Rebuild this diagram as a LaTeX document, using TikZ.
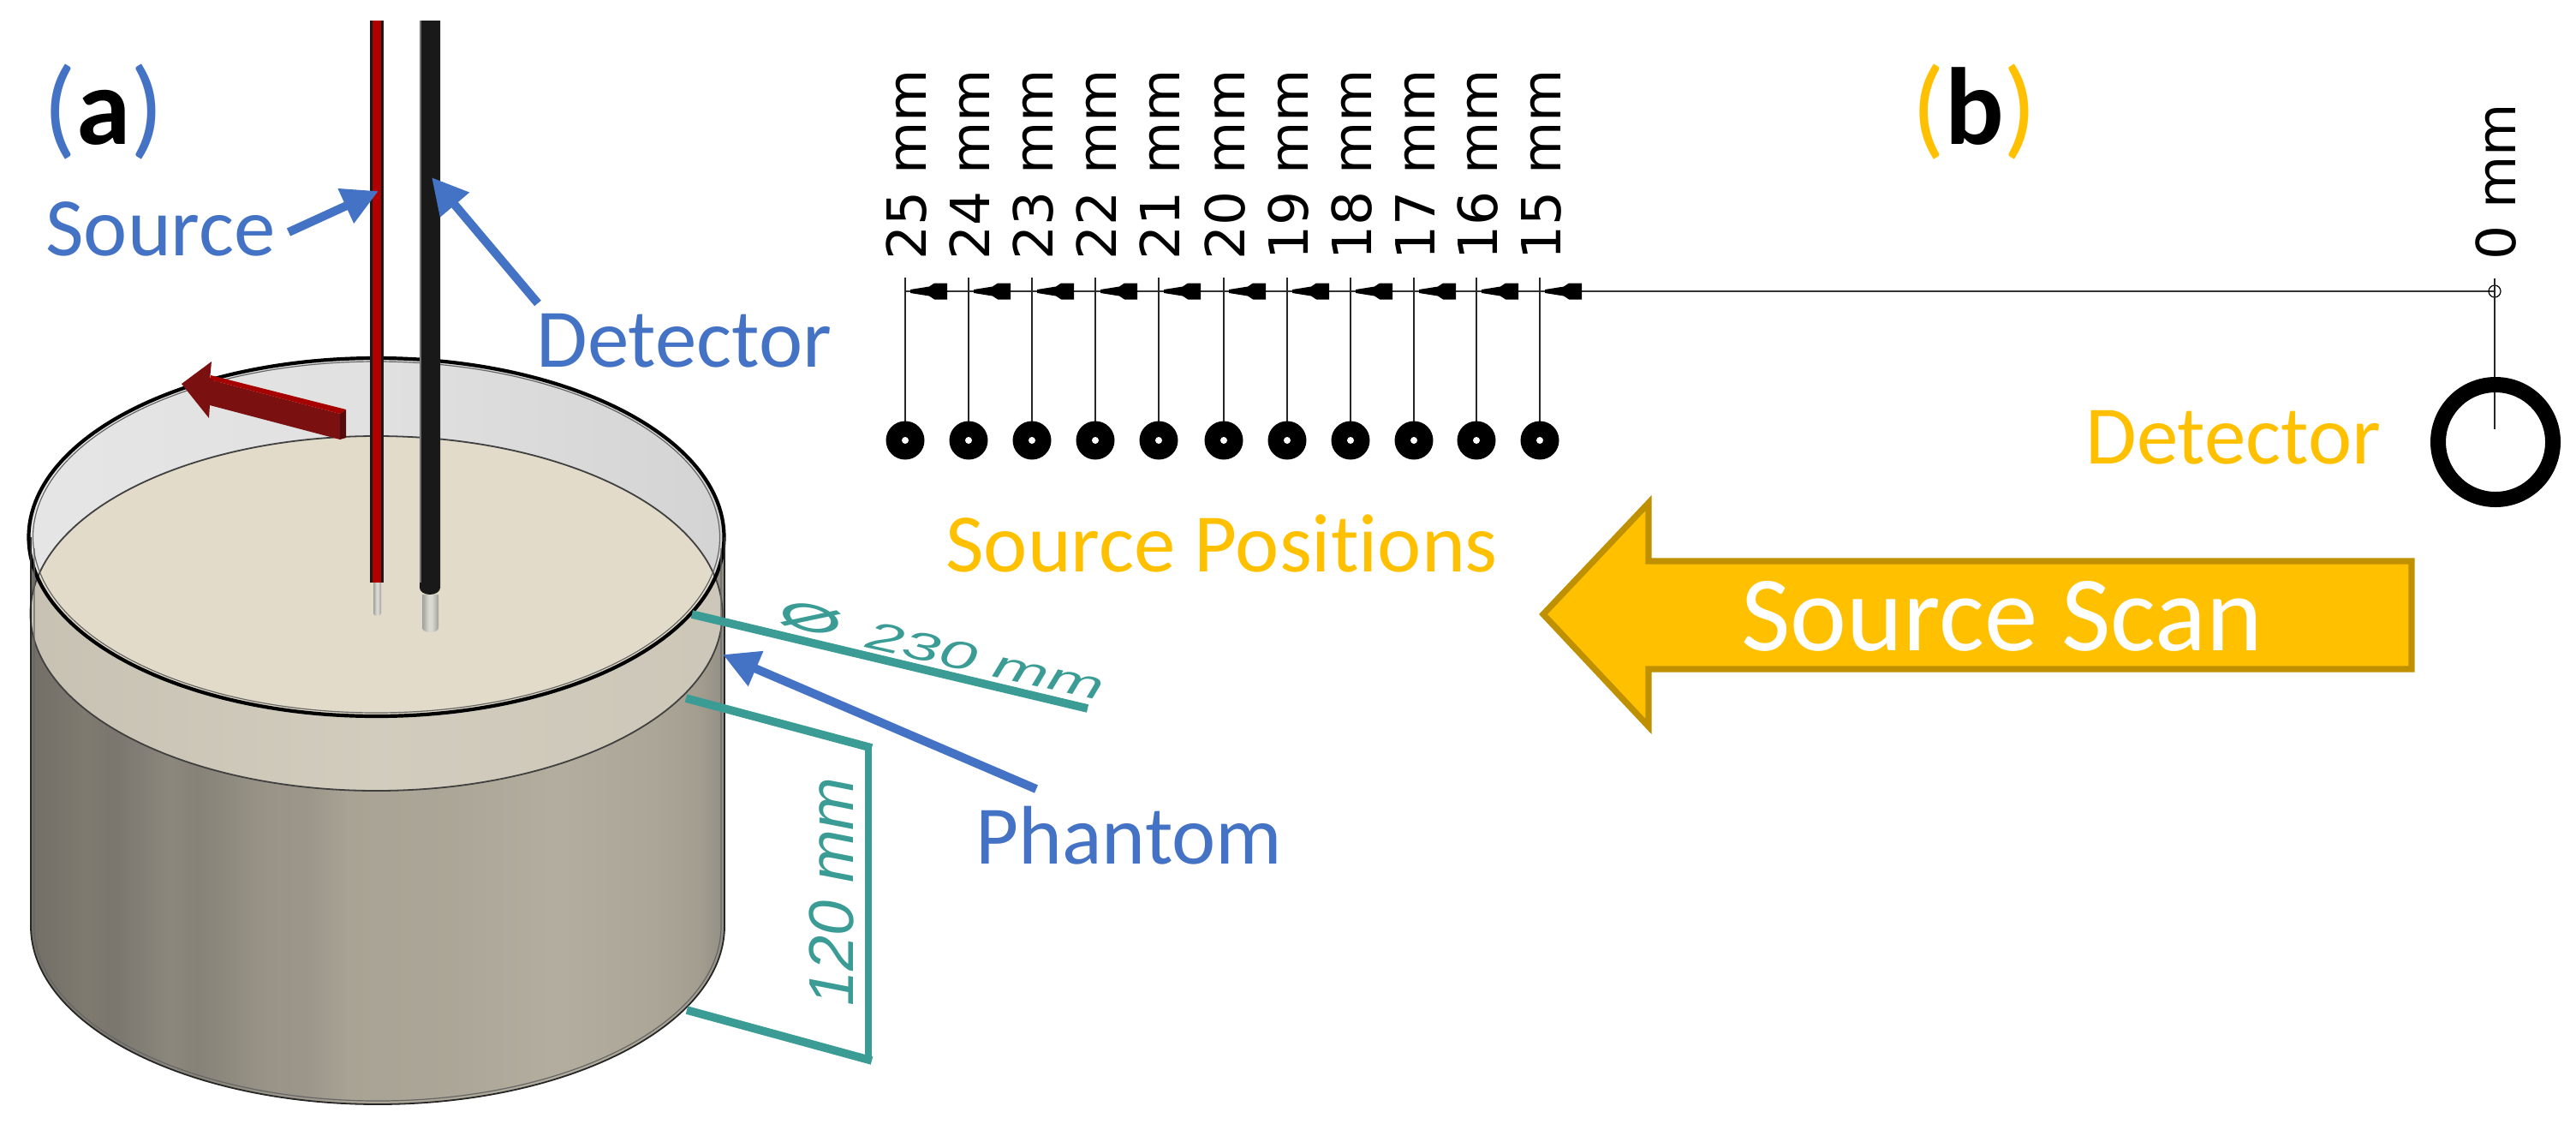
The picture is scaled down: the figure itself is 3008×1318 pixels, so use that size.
\documentclass[tikz,border=0pt]{standalone}
\usepackage{graphicx}
\usepackage{fontspec}
\setmainfont{Carlito}[Ligatures=NoCommon]
\newfontfamily\cadfont{DejaVu Sans}
\newfontfamily\dimfont{Liberation Sans}
\usetikzlibrary{arrows.meta}

\definecolor{lblue}{HTML}{4472C4}
\definecolor{lorange}{HTML}{FFC000}
\definecolor{bigedge}{HTML}{BF9000}
\definecolor{dimteal}{HTML}{3A9C94}
\definecolor{beige}{HTML}{E2DBC9}
\definecolor{darkred}{HTML}{7A1010}

\pgfdeclarehorizontalshading{bodyshade}{100bp}{
  rgb(0bp)=(0.45,0.43,0.40);
  rgb(25bp)=(0.45,0.43,0.40);
  rgb(29bp)=(0.50,0.48,0.44);
  rgb(31bp)=(0.48,0.46,0.43);
  rgb(35bp)=(0.55,0.53,0.49);
  rgb(37bp)=(0.53,0.51,0.47);
  rgb(42bp)=(0.60,0.58,0.53);
  rgb(45bp)=(0.61,0.59,0.54);
  rgb(48bp)=(0.66,0.64,0.58);
  rgb(55bp)=(0.67,0.65,0.59);
  rgb(63bp)=(0.70,0.68,0.62);
  rgb(70bp)=(0.67,0.65,0.59);
  rgb(73bp)=(0.64,0.62,0.56);
  rgb(75bp)=(0.58,0.56,0.52);
  rgb(100bp)=(0.58,0.56,0.52)}
\pgfdeclarehorizontalshading{bandshade}{100bp}{
  rgb(0bp)=(0.78,0.76,0.70);
  rgb(25bp)=(0.78,0.76,0.70);
  rgb(50bp)=(0.82,0.80,0.74);
  rgb(75bp)=(0.80,0.78,0.72);
  rgb(100bp)=(0.80,0.78,0.72)}
\pgfdeclarehorizontalshading{wallshade}{100bp}{
  rgb(0bp)=(0.90,0.90,0.90);
  rgb(25bp)=(0.90,0.90,0.90);
  rgb(50bp)=(0.88,0.88,0.88);
  rgb(75bp)=(0.83,0.83,0.83);
  rgb(100bp)=(0.83,0.83,0.83)}
\pgfdeclarehorizontalshading{tipshade}{100bp}{
  rgb(0bp)=(0.35,0.35,0.35);
  rgb(45bp)=(0.85,0.85,0.82);
  rgb(55bp)=(0.85,0.85,0.82);
  rgb(100bp)=(0.35,0.35,0.35)}

\tikzset{
  bluetxt/.style={text=lblue,font=\fontsize{48.5}{48.5}\selectfont,inner sep=0pt,anchor=base west},
  orangetxt/.style={text=lorange,font=\fontsize{48.5}{48.5}\selectfont,inner sep=0pt,anchor=base west},
  paneltag/.style={font=\fontsize{64}{64}\selectfont,inner sep=0pt,anchor=base west},
  callout/.style={draw=lblue,line width=5pt,-{Triangle[length=21pt,width=21pt]}},
  dimline/.style={draw=dimteal,line width=4.8pt},
  cadtxt/.style={font=\cadfont\fontsize{31.5}{31.5}\selectfont,rotate=90,anchor=base west,inner sep=0pt},
  extline/.style={draw=black!85,line width=1.1pt},
}

\begin{document}
\begin{tikzpicture}[x=0.5pt,y=-0.5pt]
  \useasboundingbox (0,0) rectangle (3008,1318);

  % cylinder body
  \path[shading=bodyshade] (36,627) -- (36,1081)
    arc[start angle=180,end angle=0,x radius=405,y radius=208] -- (846,627) -- cycle;
  % back wall, then top of the phantom seen through the wall
  \path[shading=wallshade] (439.5,627) ellipse[x radius=406,y radius=209];
  \path[shading=bandshade] (439.5,716) ellipse[x radius=404,y radius=207];
  \begin{scope}
    \clip (439.5,627) ellipse[x radius=406,y radius=209];
    \fill[beige] (439.5,716) ellipse[x radius=404,y radius=207];
  \end{scope}
  \draw[black!75,line width=0.9pt] (439.5,716) ellipse[x radius=404,y radius=207];
  \draw[black!60,line width=0.6pt] (439.5,627) ellipse[x radius=401,y radius=205];
  \draw[black,line width=2.1pt] (439.5,627) ellipse[x radius=406,y radius=209];
  % body outline
  \draw[black!85,line width=0.9pt] (36,627) -- (36,1081)
    arc[start angle=180,end angle=0,x radius=405,y radius=208] -- (846,627);
  \draw[black!60,line width=0.6pt] (40,640) -- (40,1081)
    arc[start angle=180,end angle=0,x radius=401,y radius=204] -- (842,640);

  % red arrow on the rim
  \fill[darkred] (212,448) -- (247,422) -- (245,443) -- (397,483) -- (397,513)
    -- (245,473) -- (244,488) -- cycle;
  \fill[red!65!black] (246,438) -- (404,478) -- (397,483) -- (245,443) -- cycle;
  \fill[darkred!70!black] (397,483) -- (404,478) -- (404,511) -- (397,513) -- cycle;

  % source and detector rods
  \path[shading=tipshade] (436,680) -- (436,716) arc[start angle=180,end angle=0,x radius=4.5,y radius=3] -- (445,680) -- cycle;
  \path[shading=tipshade] (493,694) -- (493,733) arc[start angle=180,end angle=0,x radius=9.5,y radius=5] -- (512,694) -- cycle;
  \fill[black!90] (432,24) rectangle (448,680);
  \fill[red!70!black] (435,24) rectangle (445,680);
  \fill[black!90] (490,24) -- (514,24) -- (514,686)
    arc[start angle=0,end angle=180,x radius=12,y radius=8] -- cycle;
  \fill[black!55] (490,24) rectangle (492,680);

  % dimensions
  \draw[dimline] (808,717) -- (1270,827);
  \draw[dimline] (801,815) -- (1018,873);
  \draw[dimline] (802,1179) -- (1018,1238);
  \draw[dimline,line width=3.6pt] (1014,873) -- (1014,1238);
  \node (dia) [text=dimteal,rotate=-13.5,inner sep=0pt,font=\cadfont\fontsize{30}{30}\selectfont] at (947,722) {\scalebox{2.1}[1]{⌀}};
  \node (len230) [text=dimteal,rotate=-12.7,inner sep=0pt,anchor=base,font=\dimfont\itshape\fontsize{23}{23}\selectfont] at (1147,787) {\scalebox{1.7}[1]{230 mm}};
  \node (len120) [text=dimteal,rotate=90,inner sep=0pt,anchor=base,font=\dimfont\itshape\fontsize{37}{37}\selectfont] at (996,1041) {120 mm};

  % labels of panel (a)
  \node (taga) [paneltag] at (50,168) {\textcolor{lblue}{(}\textbf{a}\textcolor{lblue}{)}};
  \node (source) [bluetxt] at (53,298) {Source};
  \node (detector) [bluetxt] at (626,428) {Detector};
  \node (phantom) [bluetxt] at (1139,1008) {Phantom};
  \coordinate (sourcefrom) at (337,271);
  \coordinate (sourceto) at (442,223);
  \coordinate (detectorfrom) at (628,354);
  \coordinate (detectorto) at (504,207);
  \coordinate (phantomfrom) at (1210,921);
  \coordinate (phantomto) at (844,764);
  \draw[callout] (sourcefrom) -- (sourceto);
  \draw[callout] (detectorfrom) -- (detectorto);
  \draw[callout] (phantomfrom) -- (phantomto);

  % panel (b): scale of source positions
  \coordinate (scaleend) at (2913,340);
  \draw[black!80,line width=1.4pt] (1057,340) -- (scaleend);
  \foreach \lx/\txt in {1057/25,1131/24,1205/23,1279/22,1353/21,1429/20,1503/19,1577/18,1651/17,1724/16,1798/15} {
    \coordinate (top\txt) at (\lx,324);
    \coordinate (bub\txt) at (\lx,514);
    \draw[extline] (top\txt) -- (bub\txt);
    \fill[black] (\lx+6,338) -- (\lx+28,334.5) -- (\lx+34,330.5) -- (\lx+49,330.5) -- (\lx+49,349.5) -- (\lx+34,349.5) -- (\lx+28,345.5) -- (\lx+6,342) -- cycle;
    \fill[black] (bub\txt) circle[radius=22.5];
    \fill[white] (bub\txt) circle[radius=4];
    \node (lab\txt) [cadtxt] at (\lx+24,304) {\txt{} mm};
  }
  \node (lab0) [cadtxt] at (2937,304) {0 mm};
  \draw[black,line width=0.6pt] (scaleend) circle[radius=7];
  \coordinate (dettop) at (2913,325);
  \coordinate (detmid) at (2913,501);
  \draw[extline] (dettop) -- (detmid);
  \draw[black,line width=9pt] (2914,516) circle[radius=67];

  % panel (b): labels and scan arrow
  \node (tagb) [paneltag] at (2232,168) {\textcolor{lorange}{(}\textbf{b}\textcolor{lorange}{)}};
  \node (detb) [orangetxt] at (2435,541) {Detector};
  \node (posb) [orangetxt] at (1104,667) {Source Positions};
  \draw[fill=lorange,draw=bigedge,line width=3.6pt] (2816,655) -- (2816,781) -- (1925,781)
    -- (1925,848) -- (1802,717) -- (1925,587) -- (1925,655) -- cycle;
  \node (scan) [text=white,inner sep=0pt,anchor=base west,font=\fontsize{62.5}{62.5}\selectfont] at (2033,759) {Source Scan};
\end{tikzpicture}
\end{document}
